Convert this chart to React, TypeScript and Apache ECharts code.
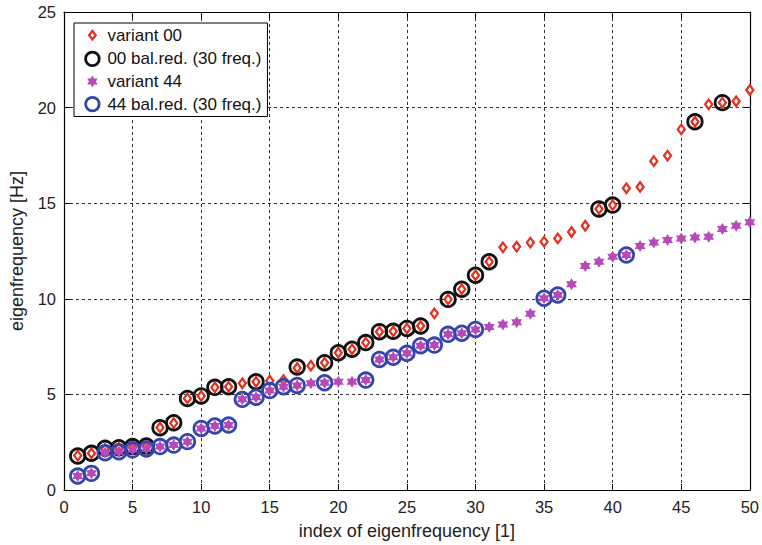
import React, { useEffect, useRef } from "react";
import * as echarts from "echarts";

const indices: number[] = Array.from({ length: 50 }, (_, i) => i + 1);

const variant00: number[] = [
  1.8, 1.92, 2.15, 2.2, 2.25, 2.3, 3.27, 3.5, 4.79, 4.92,
  5.37, 5.4, 5.58, 5.66, 5.72, 5.75, 6.38, 6.5, 6.66, 7.18,
  7.36, 7.71, 8.28, 8.3, 8.45, 8.58, 9.24, 9.97, 10.5, 11.23,
  11.94, 12.69, 12.73, 12.94, 12.99, 13.16, 13.49, 13.82, 14.7, 14.9,
  15.78, 15.85, 17.2, 17.49, 18.86, 19.26, 20.17, 20.26, 20.33, 20.92,
];

const variant44: number[] = [
  0.73, 0.87, 1.95, 2.0, 2.1, 2.15, 2.27, 2.35, 2.53, 3.22,
  3.35, 3.4, 4.74, 4.85, 5.2, 5.4, 5.47, 5.58, 5.61, 5.66,
  5.66, 5.75, 6.83, 6.94, 7.15, 7.55, 7.58, 8.14, 8.2, 8.4,
  8.52, 8.65, 8.78, 9.22, 10.03, 10.2, 10.76, 11.72, 11.94, 12.2,
  12.29, 12.76, 12.94, 13.07, 13.16, 13.21, 13.25, 13.65, 13.82, 14.0,
];

const reduced00Index: number[] = [
  1, 2, 3, 4, 5, 6, 7, 8, 9, 10, 11, 12, 14, 17, 19, 20, 21, 22, 23, 24,
  25, 26, 28, 29, 30, 31, 39, 40, 46, 48,
];
const reduced00Values: number[] = [
  1.78, 1.92, 2.18, 2.21, 2.27, 2.3, 3.26, 3.52, 4.79, 4.92, 5.37, 5.4, 5.66,
  6.43, 6.66, 7.18, 7.36, 7.71, 8.28, 8.3, 8.45, 8.58, 9.97, 10.5, 11.23,
  11.94, 14.7, 14.9, 19.26, 20.26,
];

const reduced44Index: number[] = [
  1, 2, 3, 4, 5, 6, 7, 8, 9, 10, 11, 12, 13, 14, 15, 16, 17, 19, 22, 23,
  24, 25, 26, 27, 28, 29, 30, 35, 36, 41,
];
const reduced44Values: number[] = [
  0.73, 0.87, 1.95, 2.0, 2.1, 2.15, 2.27, 2.35, 2.53, 3.22, 3.35, 3.4, 4.74,
  4.85, 5.2, 5.4, 5.47, 5.61, 5.75, 6.83, 6.94, 7.15, 7.55, 7.58, 8.14, 8.2,
  8.4, 10.03, 10.2, 12.29,
];

const seriesNames: string[] = [
  "variant 00",
  "00 bal.red. (30 freq.)",
  "variant 44",
  "44 bal.red. (30 freq.)",
];

const FONT = "Liberation Sans, Arial, Helvetica, sans-serif";
const RED = "#e6301f";
const BLACK = "#111111";
const PURPLE = "#b54ab8";
const BLUE = "#3445b0";

const STAR =
  "path://M0,-10 L2.89,-5 L8.66,-5 L5.77,0 L8.66,5 L2.89,5 L0,10 L-2.89,5 L-8.66,5 L-5.77,0 L-8.66,-5 L-2.89,-5 Z";
const LEG_DIAMOND = "path://M-10,-10 M10,10 M0,-4.2 L3.3,0 L0,4.2 L-3.3,0 Z";
const LEG_CIRCLE =
  "path://M-10,-10 M10,10 M6.8,0 A6.8,6.8 0 1,1 -6.8,0 A6.8,6.8 0 1,1 6.8,0 Z";
const LEG_STAR =
  "path://M-10,-10 M10,10 M0,-6 L1.73,-3 L5.2,-3 L3.46,0 L5.2,3 L1.73,3 L0,6 L-1.73,3 L-5.2,3 L-3.46,0 L-5.2,-3 L-1.73,-3 Z";

function pairs(xs: number[], ys: number[]): number[][] {
  return xs.map((x, i) => [x, ys[i]]);
}

export default function App() {
  const ref = useRef<HTMLDivElement>(null);
  useEffect(() => {
    document.body.style.margin = "0";
    if (!ref.current) return;
    const chart = echarts.init(ref.current, null, { renderer: "svg" });
    const axisCommon = {
      axisLine: { show: true, onZero: false, lineStyle: { color: "#000", width: 1.2 } },
      axisTick: { show: true, inside: true, length: 6, lineStyle: { color: "#000", width: 1 } },
    };
    const splitDash = {
      show: true,
      lineStyle: { color: "#333", width: 1, type: [3, 3] as any },
    };
    chart.setOption({
      animation: false,
      backgroundColor: "#fff",
      grid: { left: 62, right: 11, top: 12, bottom: 55, containLabel: false },
      legend: {
        orient: "vertical",
        left: 74,
        top: 23,
        itemWidth: 20,
        itemHeight: 20,
        itemGap: 1.2,
        itemTextGap: 5,
        padding: [1, 6, 1, 7],
        borderColor: "#000",
        borderWidth: 1,
        backgroundColor: "#fff",
        selectedMode: false,
        textStyle: { fontSize: 17, fontFamily: FONT, color: "#111" },
        data: [
          { name: seriesNames[0], icon: LEG_DIAMOND, itemStyle: { color: "#fff", borderColor: RED, borderWidth: 2.3 } },
          { name: seriesNames[1], icon: LEG_CIRCLE, itemStyle: { color: "#fff", borderColor: BLACK, borderWidth: 2.8 } },
          { name: seriesNames[2], icon: LEG_STAR, itemStyle: { color: PURPLE, borderColor: PURPLE, borderWidth: 0 } },
          { name: seriesNames[3], icon: LEG_CIRCLE, itemStyle: { color: "#fff", borderColor: BLUE, borderWidth: 2.8 } },
        ],
      },
      xAxis: [
        {
          type: "value",
          min: 0,
          max: 50,
          interval: 5,
          position: "bottom",
          ...axisCommon,
          axisLabel: { fontSize: 16.5, fontFamily: FONT, color: "#222", margin: 8 },
          splitLine: splitDash,
          name: "index of eigenfrequency [1]",
          nameLocation: "middle",
          nameGap: 32,
          nameTextStyle: { fontSize: 18, fontFamily: FONT, color: "#222" },
        },
        {
          type: "value",
          min: 0,
          max: 50,
          interval: 5,
          position: "top",
          ...axisCommon,
          axisLabel: { show: false },
          splitLine: { show: false },
        },
      ],
      yAxis: [
        {
          type: "value",
          min: 0,
          max: 25,
          interval: 5,
          position: "left",
          ...axisCommon,
          axisLabel: { fontSize: 16.5, fontFamily: FONT, color: "#222", margin: 8 },
          splitLine: splitDash,
          name: "eigenfrequency [Hz]",
          nameLocation: "middle",
          nameGap: 38,
          nameTextStyle: { fontSize: 18, fontFamily: FONT, color: "#222" },
        },
        {
          type: "value",
          min: 0,
          max: 25,
          interval: 5,
          position: "right",
          ...axisCommon,
          axisLabel: { show: false },
          splitLine: { show: false },
        },
      ],
      series: [
        {
          name: seriesNames[0],
          type: "scatter",
          data: pairs(indices, variant00),
          symbol: "diamond",
          symbolSize: [7, 9.5],
          itemStyle: { color: "#fff", borderColor: RED, borderWidth: 2.3, opacity: 1 },
          z: 2,
        },
        {
          name: seriesNames[1],
          type: "scatter",
          data: pairs(reduced00Index, reduced00Values),
          symbol: "circle",
          symbolSize: 14.5,
          itemStyle: { color: "transparent", borderColor: BLACK, borderWidth: 2.8, opacity: 1 },
          z: 3,
        },
        {
          name: seriesNames[2],
          type: "scatter",
          data: pairs(indices, variant44),
          symbol: STAR,
          symbolSize: [11, 12],
          itemStyle: { color: PURPLE, opacity: 1 },
          z: 4,
        },
        {
          name: seriesNames[3],
          type: "scatter",
          data: pairs(reduced44Index, reduced44Values),
          symbol: "circle",
          symbolSize: 14.5,
          itemStyle: { color: "transparent", borderColor: BLUE, borderWidth: 2.8, opacity: 1 },
          z: 5,
        },
      ],
    });
    return () => chart.dispose();
  }, []);
  return <div ref={ref} style={{ width: 762, height: 545 }} />;
}
